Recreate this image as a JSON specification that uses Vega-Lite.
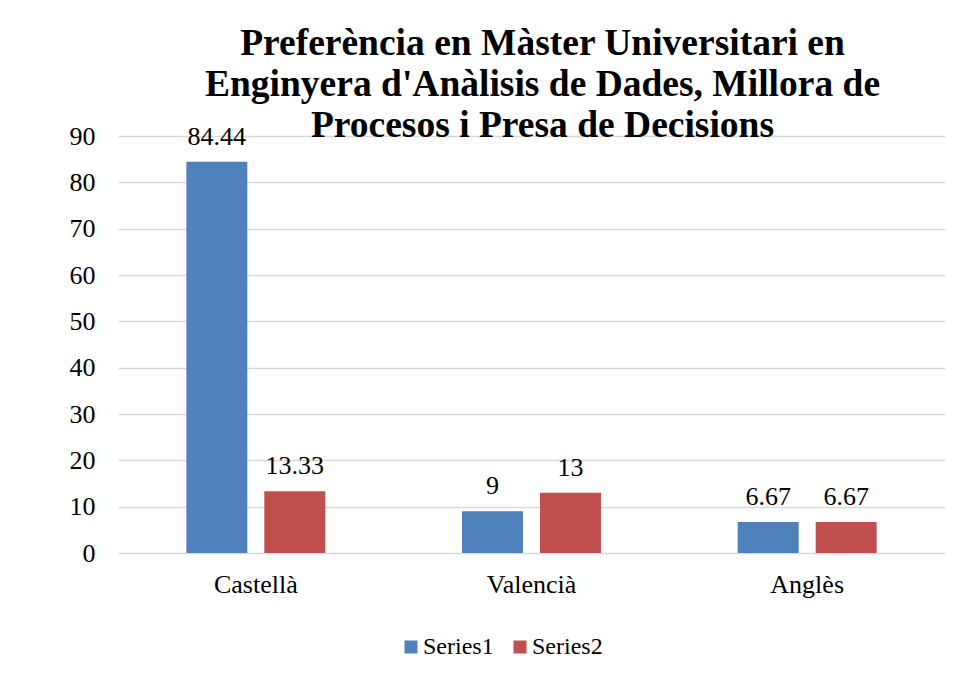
{
  "$schema": "https://vega.github.io/schema/vega-lite/v6.json",
  "width": 827,
  "height": 417,
  "autosize": {"type": "none"},
  "padding": {"left": 118, "top": 136, "right": 32, "bottom": 128},
  "background": "white",
  "title": {
    "text": ["Preferència en Màster Universitari en", "Enginyera d'Anàlisis de Dades, Millora de", "Procesos i Presa de Decisions"],
    "font": "Liberation Serif",
    "fontSize": 37.5,
    "fontWeight": "bold",
    "color": "#000000",
    "lineHeight": 41,
    "anchor": "middle",
    "frame": "group",
    "dx": 11,
    "baseline": "alphabetic",
    "offset": -51
  },
  "data": {
    "values": [
      {"idioma": "Castellà", "serie": "Series1", "valor": 84.44, "etiqueta": "84.44"},
      {"idioma": "Castellà", "serie": "Series2", "valor": 13.33, "etiqueta": "13.33"},
      {"idioma": "Valencià", "serie": "Series1", "valor": 9, "etiqueta": "9"},
      {"idioma": "Valencià", "serie": "Series2", "valor": 13, "etiqueta": "13"},
      {"idioma": "Anglès", "serie": "Series1", "valor": 6.67, "etiqueta": "6.67"},
      {"idioma": "Anglès", "serie": "Series2", "valor": 6.67, "etiqueta": "6.67"}
    ]
  },
  "encoding": {
    "x": {
      "field": "idioma",
      "type": "nominal",
      "sort": ["Castellà", "Valencià", "Anglès"],
      "scale": {"paddingInner": 0.496, "paddingOuter": 0.248},
      "axis": {
        "title": null,
        "labelAngle": 0,
        "labelFont": "Liberation Serif",
        "labelFontSize": 26,
        "labelColor": "#000000",
        "labelPadding": 18,
        "ticks": false,
        "domain": false,
        "grid": false
      }
    },
    "xOffset": {
      "field": "serie",
      "type": "nominal",
      "scale": {"paddingInner": 0.218, "paddingOuter": 0}
    },
    "y": {
      "field": "valor",
      "type": "quantitative",
      "scale": {"domain": [0, 90], "nice": false},
      "axis": {
        "title": null,
        "values": [0, 10, 20, 30, 40, 50, 60, 70, 80, 90],
        "labelFont": "Liberation Serif",
        "labelFontSize": 26,
        "labelColor": "#000000",
        "labelPadding": 23,
        "ticks": false,
        "domain": false,
        "grid": true,
        "gridColor": "#D9D9D9",
        "gridWidth": 1.5
      }
    }
  },
  "layer": [
    {
      "mark": {"type": "bar"},
      "encoding": {
        "color": {
          "field": "serie",
          "type": "nominal",
          "scale": {"domain": ["Series1", "Series2"], "range": ["#4F81BD", "#C0504D"]},
          "legend": {
            "title": null,
            "orient": "none",
            "direction": "horizontal",
            "legendX": 281,
            "legendY": 499,
            "symbolType": "square",
            "symbolSize": 169,
            "symbolStrokeWidth": 0,
            "labelFont": "Liberation Serif",
            "labelFontSize": 24,
            "labelColor": "#000000",
            "labelOffset": 0,
            "columnPadding": 14
          }
        }
      }
    },
    {
      "mark": {
        "type": "text",
        "font": "Liberation Serif",
        "fontSize": 26,
        "color": "#000000",
        "baseline": "alphabetic",
        "dy": -17
      },
      "encoding": {
        "text": {"field": "etiqueta", "type": "nominal"}
      }
    }
  ],
  "config": {
    "view": {"stroke": null}
  }
}
